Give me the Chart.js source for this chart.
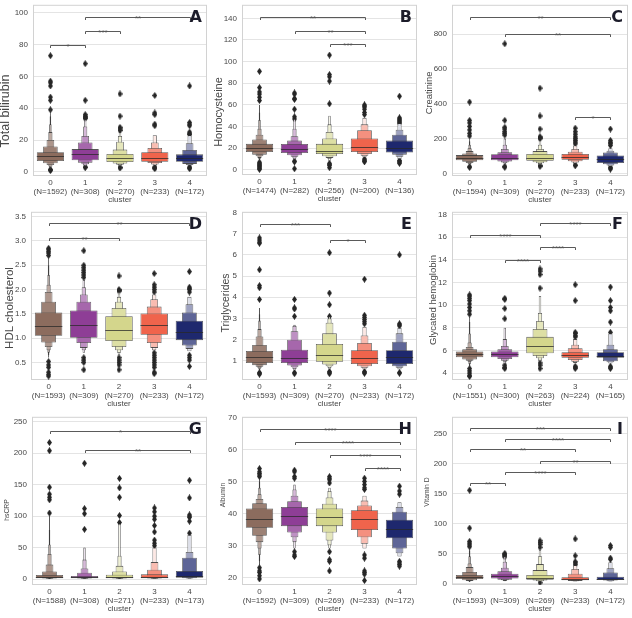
<!DOCTYPE html>
<html>
<head>
<meta charset="utf-8">
<script src="https://cdn.jsdelivr.net/npm/chart.js@4.4.0/dist/chart.umd.min.js"></script>
<style>
body { margin: 0; background: #fff; width: 632px; height: 618px; overflow: hidden; position: relative; }
canvas { position: absolute; }
</style>
</head>
<body>
<script>
// Boxen plots of 9 lab values by cluster (letter-value boxes, inner -> outer)
const CLUSTERS = ['0', '1', '2', '3', '4'];
const COLORS = [[140, 108, 94], [142, 62, 150], [212, 214, 140], [240, 100, 76], [30, 40, 110]];
const LEVEL_WIDTHS = [0.78, 0.42, 0.22, 0.12, 0.07, 0.045, 0.03];

// A - Total bilirubin
const A_n = [1592, 308, 270, 233, 172];
const A_median = [10, 11, 8.8, 9, 8.5];
const A_levels = [
    [[6.8, 12.4], [5.4, 16], [4.3, 20], [3.3, 25], [2.7, 30], [2.2, 35], [1.8, 40]],
    [[7.3, 14.3], [5.8, 18.5], [4.8, 22.5], [4.0, 28.5], [3.5, 33]],
    [[6.2, 11.2], [5.3, 14], [4.5, 19], [4.0, 22.5], [3.5, 25]],
    [[6.4, 12.4], [5.5, 15], [4.6, 18.5], [4.0, 23]],
    [[6.4, 11], [5.0, 13.8], [4.3, 18], [3.8, 23]]
];
const A_outliers = [
    [73, 57, 56, 54, 47, 45, 39, 1.5, 1.2, 0.8],
    [68, 45, 36, 35, 34.5, 34, 33.5, 3, 2.8],
    [49, 35, 28, 27, 26, 2.8, 2.5],
    [48, 37, 36, 30, 29, 3, 2.5, 2],
    [54, 31, 30, 29, 25, 24, 23.5, 3, 2.5, 2]
];
const A_sig = [[0, 1, 80, '*'], [1, 2, 88.4, '***'], [1, 4, 97.3, '**']];
const A_ticks = [0, 20, 40, 60, 80, 100];

// B - Homocysteine
const B_n = [1474, 282, 256, 200, 136];
const B_median = [20, 19.5, 17.5, 21.5, 20.5];
const B_levels = [
    [[16.5, 24], [14, 28], [12.5, 32.5], [11, 38], [10, 46], [9, 53], [8, 60]],
    [[15.5, 23.8], [13.5, 27], [12, 31], [10.5, 38], [9.5, 47]],
    [[14.5, 24], [12.5, 29], [11, 35], [10, 42], [8, 50]],
    [[16.5, 29], [14.5, 36.5], [13, 42], [11.5, 48]],
    [[16, 27], [14, 32.5], [12, 37], [10, 43]]
];
const B_outliers = [
    [91, 76, 72, 70, 67, 64, 7, 6, 5, 4, 3, 2, 1, 0.5],
    [71, 70, 66, 65, 56, 49, 47, 8, 7.5, 1],
    [106, 88, 86, 82, 61, 6, 5, 4, 2],
    [60, 59, 58, 56, 53, 51, 10, 9, 8, 7.5],
    [68, 48, 47, 46, 45, 44, 43, 8.5, 8, 7, 6]
];
const B_sig = [[0, 3, 141.5, '**'], [1, 3, 128.4, '**'], [2, 3, 115.9, '***']];
const B_ticks = [0, 20, 40, 60, 80, 100, 120, 140];

// C - Creatinine
const C_n = [1594, 309, 270, 233, 172];
const C_median = [88, 90, 88, 95, 80];
const C_levels = [
    [[75, 105], [67, 115], [60, 128], [55, 145], [50, 165], [46, 185], [42, 200]],
    [[75, 110], [68, 122], [62, 140], [58, 165], [52, 200]],
    [[72, 112], [64, 128], [58, 140], [54, 165], [48, 190]],
    [[78, 112], [70, 125], [63, 140], [56, 160]],
    [[60, 103], [52, 120], [45, 130], [40, 145]]
];
const C_outliers = [
    [410, 305, 290, 270, 250, 230, 215, 35, 38],
    [745, 305, 265, 255, 240, 230, 220, 35, 40],
    [490, 330, 255, 210, 205, 200, 40, 45],
    [260, 240, 225, 210, 200, 190, 180, 170, 45, 48],
    [255, 190, 180, 175, 170, 160, 25, 30, 35]
];
const C_sig = [[0, 4, 897, '**'], [1, 4, 802, '**'], [3, 4, 322, '*']];
const C_ticks = [0, 200, 400, 600, 800];

// D - HDL cholesterol
const D_n = [1593, 309, 270, 233, 172];
const D_median = [1.25, 1.27, 1.16, 1.27, 1.12];
const D_levels = [
    [[1.05, 1.53], [0.91, 1.75], [0.82, 1.95], [0.75, 2.1], [0.7, 2.3], [0.65, 2.5], [0.6, 2.65]],
    [[1.01, 1.57], [0.9, 1.75], [0.8, 1.9], [0.75, 2.05], [0.7, 2.2]],
    [[0.94, 1.45], [0.82, 1.62], [0.75, 1.75], [0.7, 1.85], [0.65, 1.95]],
    [[1.07, 1.51], [0.9, 1.65], [0.8, 1.8], [0.75, 1.9]],
    [[0.96, 1.36], [0.85, 1.53], [0.78, 1.7], [0.73, 1.85]]
];
const D_outliers = [
    [2.85, 2.82, 2.78, 2.75, 2.7, 0.52, 0.45, 0.4, 0.3, 0.25, 0.22],
    [2.8, 2.5, 2.45, 2.4, 2.35, 2.3, 2.25, 0.6, 0.55, 0.5, 0.35],
    [2.28, 2.0, 1.98, 1.97, 0.6, 0.55, 0.5, 0.45, 0.35],
    [2.33, 2.1, 2.05, 2.0, 1.95, 0.7, 0.65, 0.6, 0.55, 0.5, 0.45, 0.4, 0.3, 0.27],
    [2.37, 2.05, 2.02, 2.0, 1.95, 0.65, 0.6, 0.55, 0.42]
];
const D_sig = [[0, 4, 3.36, '**'], [0, 2, 3.06, '**']];
const D_ticks = [0.5, 1.0, 1.5, 2.0, 2.5, 3.0, 3.5];

// E - Triglycerides
const E_n = [1593, 309, 270, 233, 172];
const E_median = [1.18, 1.12, 1.28, 1.15, 1.2];
const E_levels = [
    [[0.9, 1.47], [0.8, 1.75], [0.72, 2.15], [0.65, 2.5], [0.6, 2.9], [0.55, 3.2], [0.5, 3.5]],
    [[0.9, 1.53], [0.78, 2.0], [0.7, 2.4], [0.62, 2.65], [0.55, 2.7]],
    [[0.96, 1.8], [0.83, 2.3], [0.75, 2.8], [0.68, 3.0], [0.6, 3.1]],
    [[0.85, 1.5], [0.75, 1.85], [0.68, 2.2], [0.6, 2.6]],
    [[0.85, 1.5], [0.75, 1.9], [0.68, 2.3], [0.6, 2.55]]
];
const E_outliers = [
    [6.8, 6.7, 6.6, 6.55, 5.3, 4.55, 4.45, 3.9, 0.45, 0.4, 0.38],
    [3.9, 3.5, 3.45, 3.1, 0.45, 0.4],
    [6.1, 4.2, 3.65, 3.1, 0.5, 0.45, 0.4],
    [4.85, 3.15, 3.05, 2.95, 2.85, 2.75, 0.5, 0.45, 0.42],
    [6.0, 2.75, 2.7, 2.65, 0.45, 0.42]
];
const E_sig = [[0, 2, 7.46, '***'], [2, 3, 6.69, '*']];
const E_ticks = [1, 2, 3, 4, 5, 6, 7, 8];

// F - Glycated hemoglobin
const F_n = [1551, 300, 263, 224, 165];
const F_median = [5.65, 5.65, 6.35, 5.6, 5.55];
const F_levels = [
    [[5.4, 5.9], [5.2, 6.1], [5.1, 6.3], [5.0, 6.7], [4.8, 7.5], [4.6, 8.5], [4.5, 9.0]],
    [[5.4, 5.9], [5.25, 6.1], [5.1, 6.4], [5.0, 7.0], [4.8, 8.0]],
    [[5.75, 7.2], [5.5, 7.9], [5.3, 8.6], [5.1, 9.3], [5.0, 10.8]],
    [[5.35, 5.85], [5.15, 6.2], [5.0, 6.5], [4.9, 7.0]],
    [[5.35, 5.85], [5.05, 6.1], [4.95, 6.5], [4.85, 7.5]]
];
const F_outliers = [
    [10.9, 10.8, 10.6, 10.4, 10.1, 9.8, 9.5, 9.2, 4.4, 4.2, 4.0, 3.8, 3.7],
    [10.6, 10.5, 9.7, 8.8, 4.7, 4.5, 4.4],
    [13.2, 13.0, 12.7, 11.5, 4.9, 4.7, 4.4],
    [11.8, 10.4, 7.6, 7.5, 7.3, 7.2, 4.6, 4.5, 4.4],
    [11.6, 10.4, 9.8, 9.5, 8.5, 7.6, 4.6, 4.5, 4.4]
];
const F_sig = [[2, 4, 17.27, '****'], [0, 2, 16.2, '****'], [2, 3, 15.1, '****'], [1, 2, 13.97, '****']];
const F_ticks = [4, 6, 8, 10, 12, 14, 16, 18];

// G - hsCRP
const G_n = [1588, 308, 271, 233, 173];
const G_median = [3.5, 3, 3.5, 3.5, 5];
const G_levels = [
    [[1.5, 6.5], [1, 12], [0.7, 23], [0.5, 40], [0.4, 55], [0.3, 78], [0.2, 100]],
    [[1.5, 5], [1, 10], [0.7, 17], [0.5, 31], [0.4, 50]],
    [[1.5, 7], [1, 12], [0.7, 21], [0.5, 37], [0.3, 88]],
    [[1.5, 7.5], [1, 15], [0.7, 27], [0.5, 50]],
    [[2, 13], [1.2, 34], [0.8, 43], [0.5, 70]]
];
const G_outliers = [
    [217, 204, 146, 135, 130, 126, 105],
    [184, 112, 104, 79],
    [160, 145, 130, 101, 90],
    [113, 107, 100, 95, 85, 75, 62, 57, 53],
    [157, 129, 102, 100, 98, 92, 73]
];
const G_sig = [[0, 4, 235.8, '*'], [1, 4, 204.4, '**']];
const G_ticks = [0, 50, 100, 150, 200, 250];

// H - Albumin
const H_n = [1592, 309, 269, 233, 172];
const H_median = [38.3, 39.3, 38.8, 38.3, 35.2];
const H_levels = [
    [[35.5, 41.5], [33, 43.2], [31, 44.5], [29, 46], [27, 48], [25, 50], [23.5, 51]],
    [[36, 42], [34, 43.8], [32.5, 45.5], [31, 47.5], [29, 49]],
    [[36, 41.5], [34, 43], [31.5, 45], [30, 47], [29, 48]],
    [[34.8, 41], [32.5, 42.5], [30.5, 44], [29, 45.5]],
    [[32.2, 38], [29, 40.5], [27.5, 42], [26.5, 43.5]]
];
const H_outliers = [
    [54, 53, 52.5, 52, 51.5, 23, 22, 21.5, 20.5, 19.5],
    [53.5, 53, 51.5, 51, 28, 27, 26.5],
    [51.5, 51, 50.5, 49.5, 28, 25.5, 25, 22],
    [51, 50, 49, 48, 47.5, 27, 26, 22, 21.5, 21, 19],
    [48.5, 47, 46, 25, 24.5, 24, 23.5]
];
const H_sig = [[0, 4, 66.4, '****'], [1, 4, 62.3, '****'], [2, 4, 58.3, '****'], [3, 4, 54.3, '****']];
const H_ticks = [20, 30, 40, 50, 60, 70];

// I - Vitamin D
const I_n = [1593, 309, 269, 233, 172];
const I_median = [10, 12, 9, 7, 8];
const I_levels = [
    [[7, 14], [5, 19], [4, 27], [3.5, 33], [3, 45], [2.5, 55], [2, 60]],
    [[8, 16], [6, 20], [5, 26], [4, 36], [3.5, 45]],
    [[6, 14], [4.5, 22], [3.5, 32], [3, 45], [2.5, 55]],
    [[5, 10], [4, 16], [3.5, 24], [3, 30]],
    [[5.5, 11], [4.5, 18], [3.5, 25], [3, 35]]
];
const I_outliers = [
    [155, 92, 70, 67, 64, 61],
    [50, 48, 46, 44],
    [71, 68, 65, 60, 1],
    [74, 46, 36, 34, 31],
    [63, 60, 42, 40]
];
const I_sig = [[0, 4, 259.3, '***'], [1, 4, 240.7, '****'], [0, 3, 223.6, '**'], [2, 4, 204.4, '**'], [1, 3, 185.7, '****'], [0, 1, 167.6, '**']];
const I_ticks = [0, 50, 100, 150, 200, 250];

const panels = [
    {letter: 'A', title: 'Total bilirubin', titleSize: 12.5, tx: 6, ty: 111, col: 0, plot: [33, 3, 207, 176], min: -2.6, max: 105, dec: 0,
     n: A_n, median: A_median, levels: A_levels, outliers: A_outliers, sig: A_sig, ticks: A_ticks},
    {letter: 'B', title: 'Homocysteine', titleSize: 11, tx: 219, ty: 112, col: 1, plot: [242, 3, 417, 175], min: -4.8, max: 152.5, dec: 0,
     n: B_n, median: B_median, levels: B_levels, outliers: B_outliers, sig: B_sig, ticks: B_ticks},
    {letter: 'C', title: 'Creatinine', titleSize: 9.4, tx: 429, ty: 93, col: 2, plot: [452, 3, 628, 176], min: -15, max: 969, dec: 0,
     n: C_n, median: C_median, levels: C_levels, outliers: C_outliers, sig: C_sig, ticks: C_ticks},
    {letter: 'D', title: 'HDL cholesterol', titleSize: 11.5, tx: 10, ty: 308, col: 0, plot: [31, 210, 207, 380], min: 0.14, max: 3.6, dec: 1,
     n: D_n, median: D_median, levels: D_levels, outliers: D_outliers, sig: D_sig, ticks: D_ticks},
    {letter: 'E', title: 'Triglycerides', titleSize: 10.5, tx: 226, ty: 303, col: 1, plot: [242, 210, 417, 380], min: 0.1, max: 8.03, dec: 0,
     n: E_n, median: E_median, levels: E_levels, outliers: E_outliers, sig: E_sig, ticks: E_ticks},
    {letter: 'F', title: 'Glycated hemoglobin', titleSize: 9.6, tx: 433, ty: 300, col: 2, plot: [452, 210, 628, 380], min: 3.39, max: 18.24, dec: 0,
     n: F_n, median: F_median, levels: F_levels, outliers: F_outliers, sig: F_sig, ticks: F_ticks},
    {letter: 'G', title: 'hsCRP', titleSize: 6.8, tx: 7, ty: 510, col: 0, plot: [32, 415, 207, 585], min: -9.4, max: 257.9, dec: 0,
     n: G_n, median: G_median, levels: G_levels, outliers: G_outliers, sig: G_sig, ticks: G_ticks},
    {letter: 'H', title: 'Albumin', titleSize: 6.8, tx: 223, ty: 495, col: 1, plot: [242, 415, 417, 585], min: 17.6, max: 70.2, dec: 0,
     n: H_n, median: H_median, levels: H_levels, outliers: H_outliers, sig: H_sig, ticks: H_ticks},
    {letter: 'I', title: 'Vitamin D', titleSize: 6.8, tx: 427, ty: 492, col: 2, plot: [452, 415, 628, 585], min: -2.8, max: 277.5, dec: 0,
     n: I_n, median: I_median, levels: I_levels, outliers: I_outliers, sig: I_sig, ticks: I_ticks}
];

const COL_START = [0, 210, 420];
const TEXT = '#474747';
const FONT = 'Liberation Sans';

function tint(rgb, f) {
    return 'rgb(' + rgb.map(v => Math.round(v + (255 - v) * f)).join(',') + ')';
}

// seaborn-like thin diamond marker
function thinDiamond() {
    const c = document.createElement('canvas');
    c.width = 5;
    c.height = 7;
    const g = c.getContext('2d');
    g.fillStyle = '#262626';
    g.beginPath();
    g.moveTo(2.5, 0);
    g.lineTo(5, 3.5);
    g.lineTo(2.5, 7);
    g.lineTo(0, 3.5);
    g.closePath();
    g.fill();
    return c;
}
const DIAMOND = thinDiamond();

function decor(p, left, top) {
    return {
        id: 'decor' + p.letter,
        beforeDatasetsDraw(chart) {
            const {ctx, chartArea: a} = chart;
            ctx.save();
            ctx.strokeStyle = '#d2d2d2';
            ctx.lineWidth = 1;
            ctx.strokeRect(a.left + 0.5, a.top + 0.5, a.width - 1, a.height - 1);
            ctx.restore();
        },
        afterDatasetsDraw(chart) {
            const {ctx, chartArea: a, scales: {x, y}} = chart;
            ctx.save();
            // medians across the inner box
            const inner = chart.getDatasetMeta(0).data;
            ctx.strokeStyle = 'rgba(40,40,40,0.75)';
            ctx.lineWidth = 1;
            p.median.forEach((m, c) => {
                const bar = inner[c];
                const ym = Math.round(y.getPixelForValue(m)) + 0.5;
                ctx.beginPath();
                ctx.moveTo(bar.x - bar.width / 2, ym);
                ctx.lineTo(bar.x + bar.width / 2, ym);
                ctx.stroke();
            });
            // significance brackets
            ctx.strokeStyle = '#5a5a5a';
            ctx.fillStyle = '#555';
            ctx.font = '8px "' + FONT + '"';
            ctx.textAlign = 'center';
            ctx.textBaseline = 'alphabetic';
            p.sig.forEach(([i, j, v, label]) => {
                const x1 = Math.round(x.getPixelForValue(i)) + 0.5;
                const x2 = Math.round(x.getPixelForValue(j)) + 0.5;
                const yy = Math.round(y.getPixelForValue(v)) + 0.5;
                ctx.beginPath();
                ctx.moveTo(x1, yy + 2.5);
                ctx.lineTo(x1, yy);
                ctx.lineTo(x2, yy);
                ctx.lineTo(x2, yy + 2.5);
                ctx.stroke();
                ctx.fillText(label, (x1 + x2) / 2, yy + 3);
            });
            // panel letter
            ctx.fillStyle = '#1c1c2a';
            ctx.font = 'bold 16px "DejaVu Sans"';
            ctx.textAlign = 'right';
            ctx.fillText(p.letter, a.right - 5, a.top + 17);
            ctx.restore();
        },
        afterDraw(chart) {
            // y axis title
            const ctx = chart.ctx;
            ctx.save();
            ctx.translate(p.tx - left, p.ty - top);
            ctx.rotate(-Math.PI / 2);
            ctx.fillStyle = TEXT;
            ctx.font = p.titleSize + 'px "' + FONT + '"';
            ctx.textAlign = 'center';
            ctx.textBaseline = 'middle';
            ctx.fillText(p.title, 0, 0);
            ctx.restore();
        }
    };
}

function buildPanel(p) {
    const [L, T, R, B] = p.plot;
    const left = COL_START[p.col];
    const top = T - 8;
    const w = R + 4 - left;
    const h = B + 30 - top;
    const cv = document.createElement('canvas');
    cv.width = w;
    cv.height = h;
    cv.style.left = left + 'px';
    cv.style.top = top + 'px';
    cv.style.width = w + 'px';
    cv.style.height = h + 'px';
    document.body.appendChild(cv);

    const nLevels = Math.max(...p.levels.map(l => l.length));
    const datasets = [];
    for (let lv = 0; lv < nLevels; lv++) {
        datasets.push({
            type: 'bar',
            data: p.levels.map(l => l[lv] || null),
            backgroundColor: p.levels.map((l, c) => tint(COLORS[c], 0.85 * lv / (l.length - 1))),
            borderColor: 'rgba(55,55,55,0.85)',
            borderWidth: 0.8,
            borderSkipped: false,
            barPercentage: LEVEL_WIDTHS[lv],
            categoryPercentage: 1,
            grouped: false
        });
    }
    const pts = [];
    p.outliers.forEach((vals, c) => vals.forEach(v => pts.push({x: CLUSTERS[c], y: v})));
    datasets.push({
        type: 'line',
        data: pts,
        showLine: false,
        pointStyle: DIAMOND,
        pointRadius: 3,
        pointHoverRadius: 3
    });

    new Chart(cv, {
        type: 'bar',
        data: {labels: CLUSTERS, datasets: datasets},
        options: {
            responsive: false,
            animation: false,
            devicePixelRatio: 1,
            layout: {padding: {top: 8, right: 4, left: 0, bottom: 0}},
            plugins: {legend: {display: false}, tooltip: {enabled: false}},
            scales: {
                x: {
                    type: 'category',
                    grid: {display: false, drawTicks: false},
                    border: {display: false},
                    ticks: {
                        autoSkip: false, maxRotation: 0, minRotation: 0, padding: 2.5,
                        color: TEXT, font: {family: FONT, size: 8, lineHeight: 1.1},
                        callback: (v, i) => [CLUSTERS[i], '(N=' + p.n[i] + ')']
                    },
                    title: {display: true, text: 'cluster', color: TEXT,
                            font: {family: FONT, size: 8, lineHeight: 1.2}, padding: {top: 0, bottom: 1.2}},
                    afterFit: s => { s.height = 30; }
                },
                y: {
                    type: 'linear',
                    min: p.min,
                    max: p.max,
                    afterBuildTicks: s => { s.ticks = p.ticks.map(v => ({value: v})); },
                    grid: {color: '#e4e4e4', drawTicks: false},
                    border: {display: false},
                    ticks: {padding: 5, color: TEXT, font: {family: FONT, size: 8},
                            callback: v => Number(v).toFixed(p.dec)},
                    afterFit: s => { s.width = L - left; }
                }
            }
        },
        plugins: [decor(p, left, top)]
    });
}

panels.forEach(buildPanel);
</script>
</body>
</html>
